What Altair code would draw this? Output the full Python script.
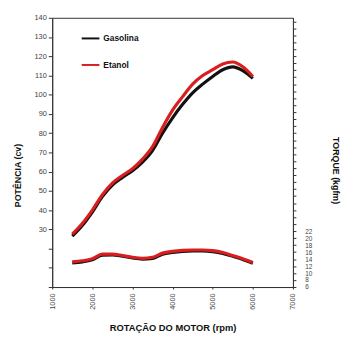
import altair as alt
import pandas as pd

rpm = [1500, 1750, 2000, 2250, 2500, 2750, 3000, 3250, 3500, 3750, 4000,
       4250, 4500, 4750, 5000, 5250, 5500, 5750, 6000]
pot_gasolina = [26.5, 32, 39, 47, 53, 57, 60.5, 65, 71, 80, 88,
                95, 101, 105.5, 109.5, 113, 114.5, 112.5, 108.5]
pot_etanol = [27.5, 33, 40, 48, 54, 58, 61.5, 66.5, 73, 83, 92,
              99, 105.5, 110, 113, 116, 117, 114.5, 109.5]
tor_gasolina = [12.9, 13.2, 13.8, 15.1, 15.2, 14.8, 14.3, 14.0, 14.2, 15.4, 15.9,
                16.2, 16.3, 16.3, 16.1, 15.6, 14.8, 13.9, 12.8]
tor_etanol = [13.2, 13.5, 14.1, 15.4, 15.4, 15.0, 14.5, 14.2, 14.5, 15.7, 16.2,
              16.5, 16.6, 16.6, 16.4, 15.9, 15.0, 14.1, 13.0]
fuels = ["Gasolina", "Etanol"]
colors = ["#111111", "#d81e1e"]
x_ticks = [1000, 2000, 3000, 4000, 5000, 6000, 7000]
left_ticks = list(range(0, 141, 10))
right_ticks = list(range(6, 83, 2))

rows = []
for i, r in enumerate(rpm):
    rows.append({"rpm": r, "fuel": "Gasolina", "pot": pot_gasolina[i], "tor": tor_gasolina[i]})
for i, r in enumerate(rpm):
    rows.append({"rpm": r, "fuel": "Etanol", "pot": pot_etanol[i], "tor": tor_etanol[i]})
df = pd.DataFrame(rows)

FONT = "Liberation Sans"

xenc = alt.X("rpm:Q", scale=alt.Scale(domain=[1000, 7000], nice=False),
             axis=alt.Axis(values=x_ticks, format="d", title="ROTAÇÃO DO MOTOR (rpm)",
                           labelAngle=270, labelFontSize=7.5, labelColor="#444",
                           labelPadding=4, tickSize=2, grid=False,
                           titleFontSize=9.5, titleFontWeight="bold", titleColor="#111",
                           titleBaseline="middle", titleY=41,
                           domainColor="#333", tickColor="#333"))

color = alt.Color("fuel:N", scale=alt.Scale(domain=fuels, range=colors),
                  legend=alt.Legend(title=None, orient="none", legendX=29, legendY=11,
                                    symbolType="stroke", symbolStrokeWidth=2,
                                    symbolSize=324, rowPadding=12,
                                    labelFontSize=8.5, labelFontWeight="bold",
                                    labelColor="#111", labelOffset=3))

left_axis = alt.Axis(values=left_ticks, title="POTÊNCIA (cv)",
                     labelExpr="datum.value >= 30 ? datum.label : ''",
                     labelFontSize=7.5, labelColor="#444", labelPadding=2, tickSize=4,
                     grid=False, titleFontSize=9, titleFontWeight="bold", titleColor="#111",
                     titleX=-35, titleY=160, titleBaseline="middle", titleAngle=270,
                     domainColor="#333", tickColor="#333")
right_axis = alt.Axis(values=right_ticks, title="TORQUE (kgfm)", orient="right",
                      labelExpr="datum.value <= 22 ? datum.label : ''",
                      labelFontSize=6.5, labelColor="#444", labelPadding=9, tickSize=3,
                      labelOverlap=False, labelFlush=False, labelBound=False,
                      grid=False, titleFontSize=9, titleFontWeight="bold", titleColor="#111",
                      titleX=43, titleY=155, titleBaseline="middle", titleAngle=90,
                      domainColor="#333", tickColor="#333")

base = alt.Chart(df)

def power_layer(fuel):
    return base.transform_filter(alt.datum.fuel == fuel).mark_line(
        strokeWidth=3.2, interpolate="monotone").encode(
        x=xenc,
        y=alt.Y("pot:Q", scale=alt.Scale(domain=[0, 140], nice=False), axis=left_axis),
        color=color)

def torque_layer(fuel):
    return base.transform_filter(alt.datum.fuel == fuel).mark_line(
        strokeWidth=3.2, interpolate="monotone").encode(
        x=xenc,
        y=alt.Y("tor:Q", scale=alt.Scale(domain=[6, 83], nice=False), axis=right_axis),
        color=color)

left = alt.layer(power_layer("Gasolina"), power_layer("Etanol"))
right = alt.layer(torque_layer("Gasolina"), torque_layer("Etanol"))

chart = alt.layer(left, right).resolve_scale(y="independent").properties(
    width=245, height=274,
    autosize=alt.AutoSizeParams(type="none"),
    padding={"left": 45, "top": 7, "right": 55, "bottom": 55},
).configure(font=FONT).configure_view(stroke="#333", strokeWidth=1)

chart.save("out.html", embed_options={"renderer": "svg", "actions": False})
